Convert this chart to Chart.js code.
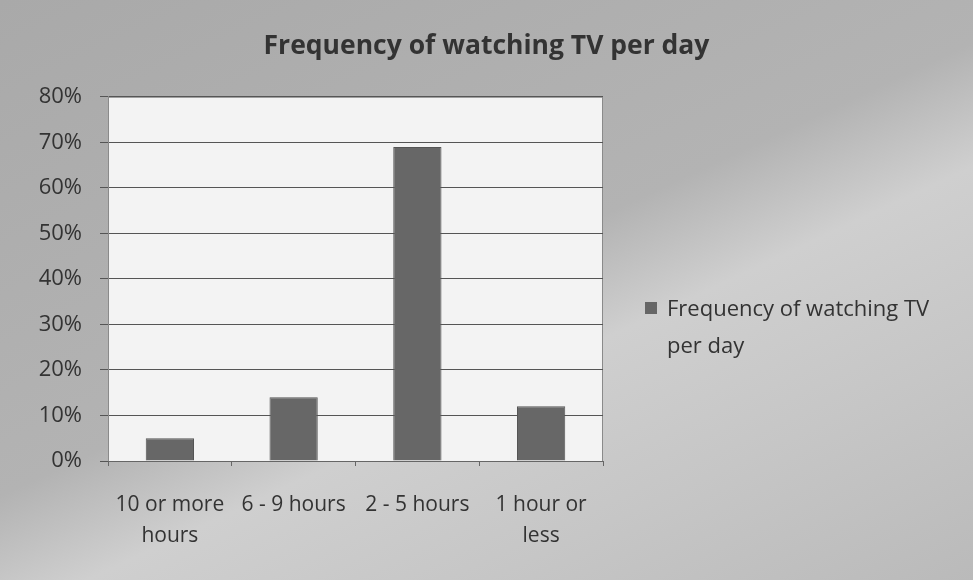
<!DOCTYPE html>
<html>
<head>
<meta charset="utf-8">
<script src="https://cdn.jsdelivr.net/npm/chart.js@4"></script>
<style>
  html, body { margin: 0; padding: 0; }
  body {
    width: 973px; height: 580px; overflow: hidden; position: relative;
    background: linear-gradient(155deg, #a9a9a9 0%, #b3b3b3 48%, #cfcfcf 60%, #c6c6c6 78%, #bababa 100%);
    font-family: "Open Sans", sans-serif;
  }
  #wrap { position: absolute; left: 0; top: 0; width: 973px; height: 580px; }
  #legend {
    position: absolute; left: 645px; top: 289px; width: 328px;
    font-size: 22px; line-height: 37px; color: #333;
  }
  #legend .box {
    position: absolute; left: 0; top: 13px; width: 12px; height: 12px; background: #666666;
  }
  #legend .txt { margin-left: 22px; }
</style>
</head>
<body>
<div id="wrap"><canvas id="chart" width="973" height="580"></canvas></div>
<div id="legend"><span class="box"></span><div class="txt">Frequency of watching TV<br>per day</div></div>
<script>
// データ
const categories = [['10 or more', 'hours'], '6 - 9 hours', '2 - 5 hours', ['1 hour or', 'less']];
const seriesName = 'Frequency of watching TV per day';
const values = [5, 14, 69, 12];
const yTicks = [0, 10, 20, 30, 40, 50, 60, 70, 80];

const textColor = '#333333';
const font = 'Open Sans';

// プロットエリアの白背景
const plotBg = {
  id: 'plotBg',
  beforeDraw(chart) {
    const { ctx, chartArea: a } = chart;
    ctx.save();
    ctx.fillStyle = '#f3f3f3';
    ctx.fillRect(a.left, a.top, a.right - a.left, a.bottom - a.top);
    ctx.strokeStyle = '#8a8a8a';
    ctx.lineWidth = 1;
    ctx.strokeRect(a.left + 0.5, a.top + 0.5, a.right - a.left - 1, a.bottom - a.top);
    ctx.restore();
  }
};

const ctx = document.getElementById('chart').getContext('2d');
new Chart(ctx, {
  type: 'bar',
  data: {
    labels: categories,
    datasets: [{
      label: seriesName,
      data: values,
      backgroundColor: '#676767',
      borderColor: '#555555',
      borderWidth: 1,
      barPercentage: 0.39,
      categoryPercentage: 1
    }]
  },
  options: {
    responsive: false,
    animation: false,
    layout: { padding: 0 },
    plugins: {
      legend: { display: false },
      tooltip: { enabled: false },
      title: {
        display: true,
        text: seriesName,
        color: textColor,
        font: { family: font, size: 26.5, weight: 'bold', lineHeight: 1.2 },
        padding: { top: 31, bottom: 34 }
      }
    },
    scales: {
      y: {
        min: 0,
        max: 80,
        afterBuildTicks: (s) => { s.ticks = yTicks.map(v => ({ value: v })); },
        afterFit: (s) => { s.width = 108; },
        ticks: {
          callback: (v) => v + '%',
          color: textColor,
          font: { family: font, size: 22 },
          padding: 18
        },
        grid: { color: '#555555', lineWidth: 1, tickLength: 8 },
        border: { color: '#8a8a8a' }
      },
      // 右側の凡例スペース用（空の軸）
      yRight: {
        position: 'right',
        display: true,
        afterFit: (s) => { s.width = 370; },
        ticks: { display: false },
        grid: { display: false },
        border: { display: false }
      },
      x: {
        afterFit: (s) => { s.height = 119; },
        ticks: {
          color: textColor,
          font: { family: font, size: 21, lineHeight: 1.5 },
          padding: 23,
          maxRotation: 0,
          autoSkip: false
        },
        grid: { offset: true, drawOnChartArea: false, color: '#666666', tickLength: 5 },
        border: { color: '#666666' }
      }
    }
  },
  plugins: [plotBg]
});
</script>
</body>
</html>
